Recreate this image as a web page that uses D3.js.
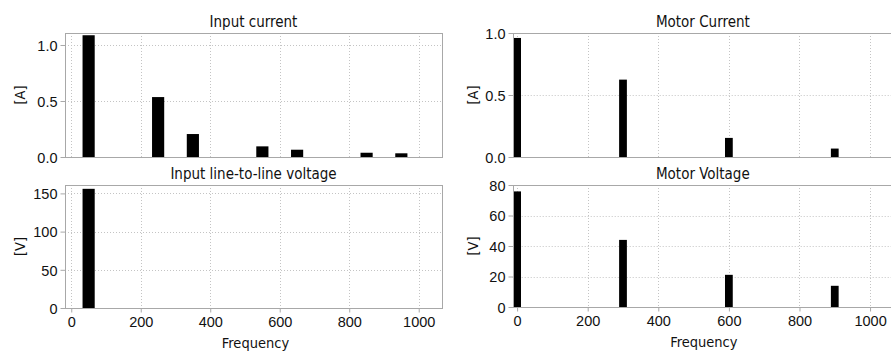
<!DOCTYPE html>
<html>
<head>
<meta charset="utf-8">
<script src="https://cdn.jsdelivr.net/npm/d3@7"></script>
<style>
  body { margin: 0; background: #fff; }
  svg { display: block; font-family: "DejaVu Sans Condensed", "DejaVu Sans", sans-serif; }
  .frame { fill: none; stroke: #a8a8a8; stroke-width: 1; }
  .grid line { stroke: #c4c4c4; stroke-dasharray: 1,2; }
  .axis path { display: none; }
  .axis line { stroke: #a8a8a8; }
  .axis text { fill: #111; font-size: 14.5px; }
  .title { font-size: 15px; fill: #111; text-anchor: middle; }
  .label { font-size: 14.5px; fill: #111; text-anchor: middle; }
  .bar { fill: #000; }
</style>
</head>
<body>
<div id="chart"></div>
<script>
// harmonics of the input side
const inputFreq = [50, 250, 350, 550, 650, 850, 950];
const inputCurrent = [1.087, 0.535, 0.205, 0.095, 0.065, 0.038, 0.033];
const lineVoltFreq = [50];
const lineVoltage = [156];

// harmonics of the motor side
const motorFreq = [0, 300, 600, 900];
const motorCurrent = [0.96, 0.624, 0.154, 0.068];
const motorVoltage = [75.8, 44, 21.1, 13.9];

const xTicks = [0, 200, 400, 600, 800, 1000];
const ampTicks = [0, 0.5, 1.0];
const lineVoltTicks = [0, 50, 100, 150];
const motorVoltTicks = [0, 20, 40, 60, 80];

const width = 891, height = 352;

const svg = d3.select('#chart').append('svg')
  .attr('width', width)
  .attr('height', height);

// Один график в рамке
function drawPanel(p) {
  const x = d3.scaleLinear().domain(p.xDomain).range([p.left, p.right]);
  const y = d3.scaleLinear().domain(p.yDomain).range([p.bottom, p.top]);
  const g = svg.append('g');

  // сетка
  const grid = g.append('g').attr('class', 'grid');
  grid.selectAll('.gx').data(xTicks).enter().append('line')
    .attr('x1', d => Math.round(x(d)) + 0.5).attr('x2', d => Math.round(x(d)) + 0.5)
    .attr('y1', p.top).attr('y2', p.bottom);
  grid.selectAll('.gy').data(p.yTicks.filter(d => d > 0)).enter().append('line')
    .attr('x1', p.left).attr('x2', p.right)
    .attr('y1', d => Math.round(y(d)) + 0.5).attr('y2', d => Math.round(y(d)) + 0.5);

  // столбцы
  g.append('g').selectAll('rect').data(p.freq).enter().append('rect')
    .attr('class', 'bar')
    .attr('x', d => x(d - p.barWidth / 2))
    .attr('width', x(p.barWidth) - x(0))
    .attr('y', (d, i) => y(p.values[i]))
    .attr('height', (d, i) => y(0) - y(p.values[i]));

  // рамка
  g.append('rect').attr('class', 'frame')
    .attr('x', Math.round(p.left) + 0.5).attr('y', Math.round(p.top) + 0.5)
    .attr('width', Math.round(p.right - p.left)).attr('height', Math.round(p.bottom - p.top));

  // ось Y
  g.append('g').attr('class', 'axis')
    .attr('transform', `translate(${Math.round(p.left) + 0.5},0)`)
    .call(d3.axisLeft(y).tickValues(p.yTicks).tickFormat(d3.format(p.yFormat)).tickSize(5).tickPadding(3))
    .selectAll('text').attr('dy', '0.36em');

  // ось X только у нижних графиков
  if (p.showX) {
    g.append('g').attr('class', 'axis')
      .attr('transform', `translate(0,${Math.round(p.bottom) + 0.5})`)
      .call(d3.axisBottom(x).tickValues(xTicks).tickFormat(d3.format('d')).tickSize(4).tickPadding(4));
    g.append('text').attr('class', 'label')
      .attr('x', (p.left + Math.min(p.right, width)) / 2 + 2)
      .attr('y', p.bottom + 40)
      .text('Frequency');
  }

  g.append('text').attr('class', 'title')
    .attr('x', (p.left + p.right) / 2)
    .attr('y', p.top - 6)
    .text(p.title);

  g.append('text').attr('class', 'label')
    .attr('transform', `translate(${p.unitX},${(p.top + p.bottom) / 2}) rotate(-90)`)
    .attr('dy', '0.35em')
    .text(p.unit);
}

drawPanel({
  title: 'Input current', unit: '[A]', unitX: 20,
  left: 65, right: 442, top: 33, bottom: 157,
  xDomain: [-18, 1067], yDomain: [0, 1.107],
  yTicks: ampTicks, yFormat: '.1f',
  freq: inputFreq, values: inputCurrent, barWidth: 35, showX: false
});

drawPanel({
  title: 'Input line-to-line voltage', unit: '[V]', unitX: 20,
  left: 65, right: 442, top: 185, bottom: 308,
  xDomain: [-18, 1067], yDomain: [0, 161],
  yTicks: lineVoltTicks, yFormat: 'd',
  freq: lineVoltFreq, values: lineVoltage, barWidth: 35, showX: true
});

drawPanel({
  title: 'Motor Current', unit: '[A]', unitX: 473,
  left: 512.7, right: 893, top: 33, bottom: 157,
  xDomain: [-12.5, 1065], yDomain: [0, 1.0],
  yTicks: ampTicks, yFormat: '.1f',
  freq: motorFreq, values: motorCurrent, barWidth: 22, showX: false
});

drawPanel({
  title: 'Motor Voltage', unit: '[V]', unitX: 473,
  left: 512.7, right: 893, top: 185, bottom: 307,
  xDomain: [-12.5, 1065], yDomain: [0, 80],
  yTicks: motorVoltTicks, yFormat: 'd',
  freq: motorFreq, values: motorVoltage, barWidth: 22, showX: true
});
</script>
</body>
</html>
